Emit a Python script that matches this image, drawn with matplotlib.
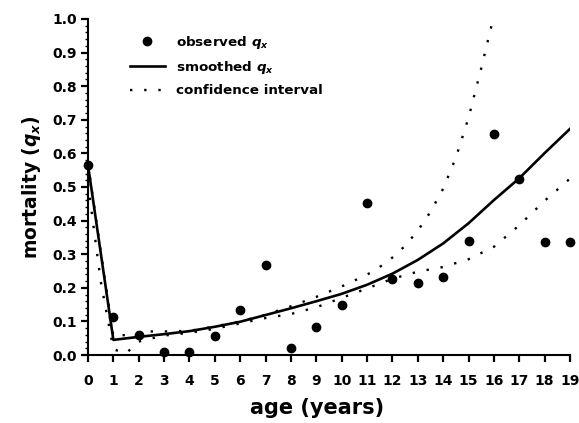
import matplotlib
matplotlib.use("Agg")
import matplotlib.pyplot as plt
import numpy as np
from matplotlib.ticker import MultipleLocator

# observed and smoothed mortality by age
ages = np.arange(0, 20)
obs_q = [0.566, 0.112, 0.059, 0.010, 0.010, 0.058, 0.134, 0.269, 0.022, 0.084,
         0.148, 0.451, 0.225, 0.215, 0.232, 0.339, 0.659, 0.525, 0.336, 0.336]
smooth_q = [0.565, 0.045, 0.054, 0.062, 0.071, 0.084, 0.099, 0.119, 0.139, 0.160,
            0.182, 0.209, 0.242, 0.283, 0.332, 0.392, 0.461, 0.526, 0.601, 0.673]

# confidence interval
upper_age = [0, 0.5, 1, 1.5, 2, 2.5, 3, 4, 5, 6, 7, 8, 9, 10, 11, 11.5, 12,
             12.5, 13, 13.5, 14, 14.5, 15, 15.5, 16]
upper_q = [0.57, 0.31, 0.055, 0.06, 0.066, 0.07, 0.07, 0.072, 0.085, 0.10, 0.12,
           0.145, 0.173, 0.204, 0.239, 0.262, 0.29, 0.325, 0.37, 0.426, 0.495,
           0.587, 0.706, 0.853, 1.01]
lower_age = [0, 0.5, 1, 1.5, 2, 3, 4, 5, 6, 7, 8, 9, 10, 11, 12, 13, 14, 15,
             16, 17, 18, 19]
lower_q = [0.51, 0.22, 0.017, 0.005, 0.04, 0.058, 0.066, 0.078, 0.094, 0.11,
           0.122, 0.142, 0.17, 0.198, 0.227, 0.248, 0.262, 0.285, 0.322, 0.386,
           0.459, 0.525]

plt.rcParams["font.family"] = "DejaVu Sans"
plt.rcParams["font.weight"] = "bold"
plt.rcParams["mathtext.fontset"] = "custom"
plt.rcParams["mathtext.it"] = "DejaVu Sans:italic:bold"
plt.rcParams["mathtext.rm"] = "DejaVu Sans:bold"

fig = plt.figure(figsize=(5.79, 4.23), dpi=100)
ax = fig.add_axes([88 / 579, 68 / 423, 482 / 579, 336 / 423])

dotted = (0, (1, 5))
ax.plot(ages, obs_q, "o", color="black", markersize=6, clip_on=False,
        label=r"observed $q_x$", zorder=4)
ax.plot(ages, smooth_q, "-", color="black", lw=1.9, label=r"smoothed $q_x$")
ax.plot(upper_age, upper_q, color="black", lw=1.7, linestyle=dotted,
        label="confidence interval")
ax.plot(lower_age, lower_q, color="black", lw=1.7, linestyle=dotted)

ax.set_xlim(0, 19)
ax.set_ylim(0, 1.0)
ax.set_xticks(ages)
ax.yaxis.set_major_locator(MultipleLocator(0.1))
ax.yaxis.set_minor_locator(MultipleLocator(0.02))
ax.yaxis.set_major_formatter(lambda v, p: f"{v:.1f}")

for s in ["top", "right"]:
    ax.spines[s].set_visible(False)
for s in ["left", "bottom"]:
    ax.spines[s].set_linewidth(1.5)

ax.tick_params(axis="x", which="major", direction="out", length=5, width=1.6,
               labelsize=10, pad=9)
ax.tick_params(axis="y", which="major", direction="out", length=5, width=1.6,
               labelsize=10, pad=3)
ax.tick_params(axis="y", which="minor", direction="out", length=2.5, width=1.0)

ax.set_xlabel("age (years)", fontsize=15, fontweight="bold", labelpad=7,
              x=0.475)
ax.set_ylabel(r"mortality ($q_x$)", fontsize=13.5, fontweight="bold", labelpad=7)

leg = ax.legend(loc="upper left", bbox_to_anchor=(0.087, 0.955), frameon=False,
                fontsize=9.7, handlelength=2.6, handletextpad=0.8,
                labelspacing=0.6, borderpad=0, borderaxespad=0, numpoints=1)

fig.savefig("out.png", dpi=100)
